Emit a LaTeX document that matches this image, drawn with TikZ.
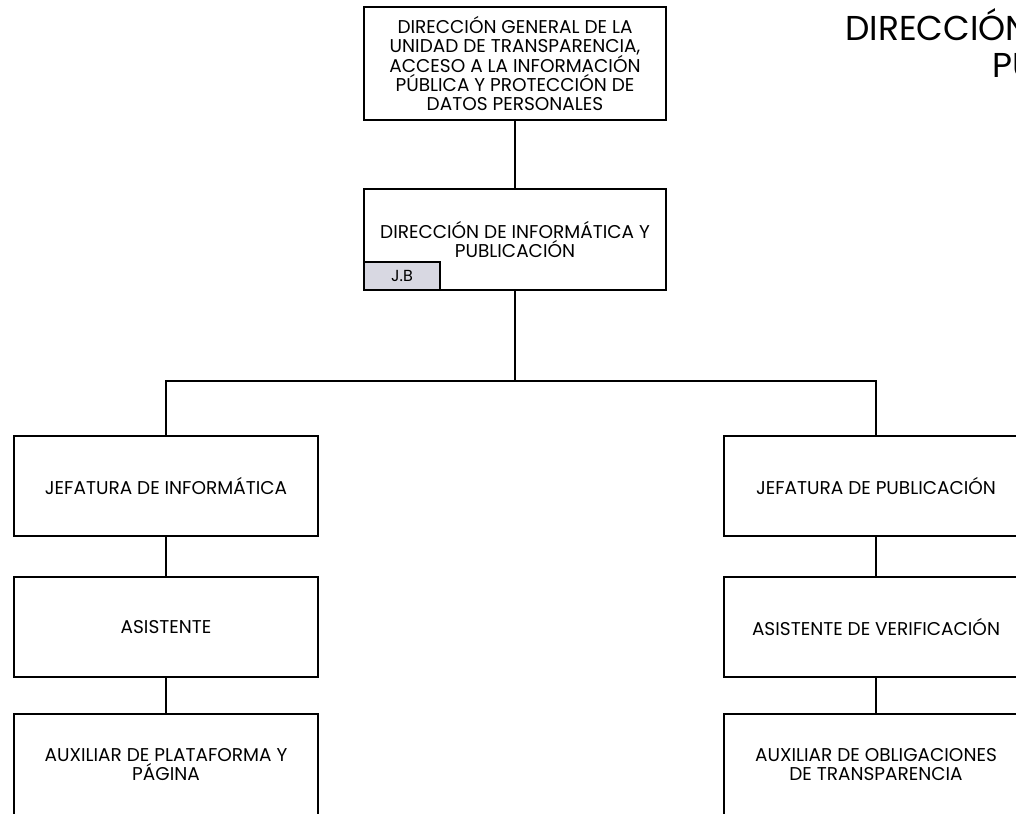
\documentclass[tikz,border=0pt]{standalone}
\usepackage{fontspec}
\setmainfont{Poppins}
\definecolor{jbgray}{HTML}{D8D8E2}
\begin{document}
\begin{tikzpicture}[x=1pt,y=1pt,
    cargo/.style={draw=black, line width=2.4pt, fill=white, minimum width=302pt, minimum height=100pt, inner sep=0pt, align=center, font=\fontsize{18.5}{19}\selectfont},
    liga/.style={line width=2.4pt},
    titulo/.style={anchor=base west, inner sep=0pt, font=\fontsize{34.5}{40}\selectfont}]
            \useasboundingbox (0,0) rectangle (1016,-813);
            \clip (0,0) rectangle (1016,-813);

            \coordinate (busL) at (166,-381);
            \coordinate (busR) at (876,-381);

            % direccion general
            \node[cargo, minimum height=113pt] (dg) at (515,-63.5) {DIRECCIÓN GENERAL DE LA\\UNIDAD DE TRANSPARENCIA,\\ACCESO A LA INFORMACIÓN\\PÚBLICA Y PROTECCIÓN DE\\DATOS PERSONALES};
            \node[cargo, minimum height=101pt] (dip) at (515,-239.5) {DIRECCIÓN DE INFORMÁTICA Y\\PUBLICACIÓN};
            \node[draw=black, line width=1.6pt, fill=jbgray, minimum width=76pt, minimum height=28pt, inner sep=0pt, font=\fontsize{16}{18}\selectfont] (jb) at (402,-276) {J.B};

            % columna izquierda
            \node[cargo, minimum width=304pt] (jinf) at (166,-486) {JEFATURA DE INFORMÁTICA};
            \node[cargo, minimum width=304pt] (asis) at (166,-627) {ASISTENTE};
            \node[cargo, minimum width=304pt, minimum height=101pt] (aux) at (166,-764.5) {AUXILIAR DE PLATAFORMA Y\\PÁGINA};

            % columna derecha
            \node[cargo, minimum width=304pt] (jpub) at (876,-486) {JEFATURA DE PUBLICACIÓN};
            \node[cargo, minimum width=304pt] (asver) at (876,-627) {ASISTENTE DE VERIFICACIÓN};
            \node[cargo, minimum width=304pt, minimum height=101pt] (auxob) at (876,-764.5) {AUXILIAR DE OBLIGACIONES\\DE TRANSPARENCIA};

            \draw[liga] (dg) -- (dip);
            \draw[liga] (dip.south) -- (dip.south |- busL);
            \draw[liga] (jinf.north) -- (busL) -- (busR) -- (jpub.north);
            \draw[liga] (jinf) -- (asis);
            \draw[liga] (asis) -- (aux);
            \draw[liga] (jpub) -- (asver);
            \draw[liga] (asver) -- (auxob);

            \node[titulo] (tit1) at (845,-41) {DIRECCIÓN};
            \node[titulo] (tit2) at (992,-78) {PU};
        \end{tikzpicture}
\end{document}
